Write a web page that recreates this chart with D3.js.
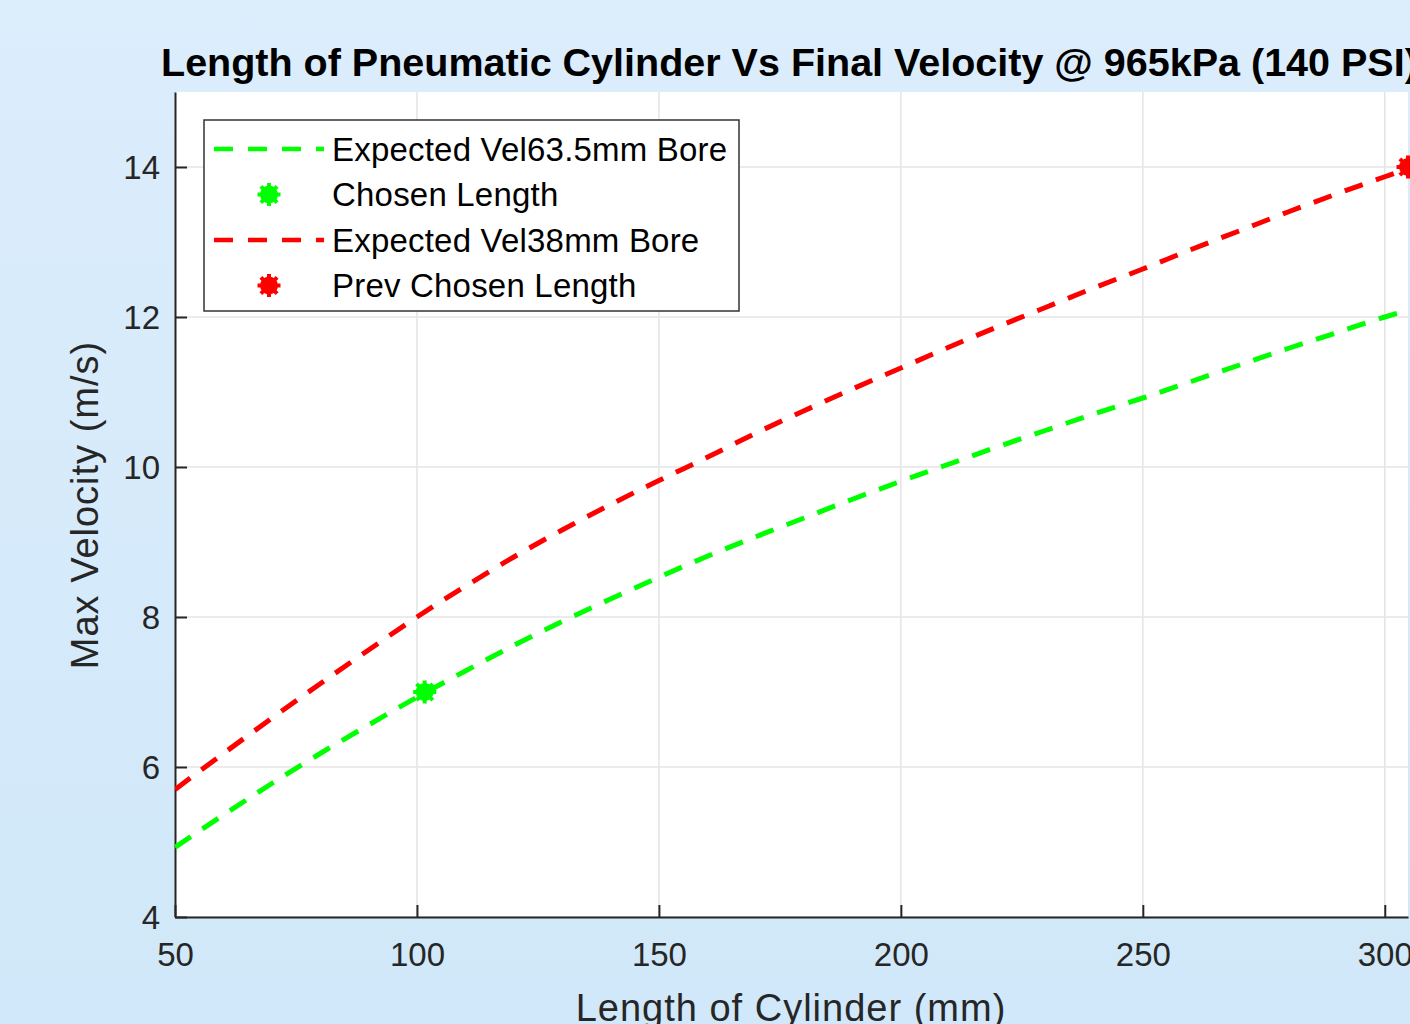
<!DOCTYPE html>
<html>
<head>
<meta charset="utf-8">
<script src="https://cdnjs.cloudflare.com/ajax/libs/d3/7.8.5/d3.min.js"></script>
<style>
  html, body { margin: 0; padding: 0; overflow: hidden; }
  body { width: 1410px; height: 1024px; }
  text { font-family: "Liberation Sans", Arial, sans-serif; }
</style>
</head>
<body>
<div id="chart"></div>
<script>
var WIDTH = 1410
var HEIGHT = 1024

// cylinder length (mm)
var lengths = [50, 60, 70, 80, 90, 100, 110, 120, 130, 140, 150, 160, 170, 180, 190, 200,
  210, 220, 230, 240, 250, 260, 270, 280, 290, 300, 304.8]
// expected velocity, 63.5mm bore (m/s)
var vel635 = [4.93, 5.36, 5.78, 6.18, 6.56, 6.93, 7.28, 7.62, 7.94, 8.24, 8.53, 8.81, 9.07, 9.32,
  9.57, 9.81, 10.04, 10.27, 10.49, 10.71, 10.92, 11.14, 11.36, 11.58, 11.79, 12.0, 12.09]
// expected velocity, 38mm bore (m/s)
var vel38 = [5.70, 6.18, 6.65, 7.11, 7.56, 8.0, 8.41, 8.80, 9.16, 9.50, 9.82, 10.13, 10.45, 10.75,
  11.04, 11.32, 11.60, 11.87, 12.13, 12.39, 12.64, 12.90, 13.15, 13.40, 13.64, 13.87, 13.98]
var chosen = [101.6, 7.0]
var prevChosen = [304.8, 14.0]

var xTicks = [50, 100, 150, 200, 250, 300]
var yTicks = [4, 6, 8, 10, 12, 14]
var legendLabels = ["Expected Vel63.5mm Bore", "Chosen Length", "Expected Vel38mm Bore", "Prev Chosen Length"]

var margin = {left: 175, top: 92, right: 2, bottom: 107}
var w = WIDTH - margin.left - margin.right
var h = HEIGHT - margin.top - margin.bottom

var svg = d3.select("#chart").append("svg")
  .attr("width", WIDTH)
  .attr("height", HEIGHT)

var defs = svg.append("defs")
var grad = defs.append("linearGradient").attr("id", "bg")
  .attr("x1", 0).attr("y1", 0).attr("x2", 0).attr("y2", 1)
grad.append("stop").attr("offset", "0%").attr("stop-color", "#dcedfc")
grad.append("stop").attr("offset", "100%").attr("stop-color", "#d0e8f9")
defs.append("clipPath").attr("id", "plotclip").append("rect")
  .attr("width", w).attr("height", h)

svg.append("rect").attr("width", WIDTH).attr("height", HEIGHT).attr("fill", "url(#bg)")

var x = d3.scaleLinear().domain([50, 304.8]).range([0, w])
var y = d3.scaleLinear().domain([4, 15]).range([h, 0])

var g = svg.append("g").attr("transform", "translate(" + margin.left + "," + margin.top + ")")

g.append("rect").attr("width", w).attr("height", h).attr("fill", "#fff")

// grid
g.selectAll(".vgrid").data(xTicks).enter().append("line")
  .attr("x1", d => x(d)).attr("x2", d => x(d))
  .attr("y1", 0).attr("y2", h)
  .attr("stroke", "#e4e4e4").attr("stroke-width", 1.5)
g.selectAll(".hgrid").data(yTicks).enter().append("line")
  .attr("y1", d => y(d)).attr("y2", d => y(d))
  .attr("x1", 0).attr("x2", w)
  .attr("stroke", "#e4e4e4").attr("stroke-width", 1.5)

// axes
var xAxis = g.append("g").attr("transform", "translate(0," + h + ")")
  .call(d3.axisBottom(x).tickValues(xTicks).tickSizeInner(-12).tickSizeOuter(0).tickPadding(27))
var yAxis = g.append("g")
  .call(d3.axisLeft(y).tickValues(yTicks).tickSizeInner(-12).tickSizeOuter(0).tickPadding(15))
;[xAxis, yAxis].forEach(function(a){
  a.select(".domain").attr("stroke", "#262626").attr("stroke-width", 2)
  a.selectAll(".tick line").attr("stroke", "#262626").attr("stroke-width", 2)
  a.selectAll(".tick text").attr("fill", "#262626")
    .style("font-family", "'Liberation Sans', Arial, sans-serif").style("font-size", "33px")
})
xAxis.selectAll(".tick text").attr("dy", "0.68em")
yAxis.selectAll(".tick text").attr("dy", "0.36em")

var line = d3.line().curve(d3.curveMonotoneX).x(d => x(d[0])).y(d => y(d[1]))
var plot = g.append("g").attr("clip-path", "url(#plotclip)")

function series(vals, color) {
  plot.append("path")
    .datum(lengths.map((l, i) => [l, vals[i]]))
    .attr("d", line)
    .attr("fill", "none")
    .attr("stroke", color)
    .attr("stroke-width", 5)
    .attr("stroke-dasharray", "19,14")
}
series(vel635, "#00ff00")
series(vel38, "#ff0000")

function star(sel, cx, cy, color) {
  var s = sel.append("g").attr("transform", "translate(" + cx + "," + cy + ")")
  s.append("circle").attr("r", 9).attr("fill", color)
  d3.range(8).forEach(function(k){
    var a = k * Math.PI / 4
    s.append("line").attr("x1", 0).attr("y1", 0)
      .attr("x2", 11.5 * Math.cos(a)).attr("y2", 11.5 * Math.sin(a))
      .attr("stroke", color).attr("stroke-width", 4)
  })
}
star(g, x(chosen[0]), y(chosen[1]), "#00ff00")
star(g, x(prevChosen[0]), y(prevChosen[1]), "#ff0000")

// title
svg.append("text")
  .attr("x", 161).attr("y", 76)
  .attr("font-size", "39.5px").attr("font-weight", "bold").attr("fill", "#000")
  .text("Length of Pneumatic Cylinder Vs Final Velocity @ 965kPa (140 PSI)")

// axis labels
svg.append("text")
  .attr("transform", "translate(98,505) rotate(-90)")
  .attr("text-anchor", "middle").attr("font-size", "38px").attr("letter-spacing", "1px")
  .attr("fill", "#262626")
  .text("Max Velocity (m/s)")
svg.append("text")
  .attr("x", 791).attr("y", 1021)
  .attr("text-anchor", "middle").attr("font-size", "38px").attr("letter-spacing", "1px")
  .attr("fill", "#262626")
  .text("Length of Cylinder (mm)")

// legend
var lg = svg.append("g").attr("transform", "translate(204,120)")
lg.append("rect").attr("width", 535).attr("height", 191)
  .attr("fill", "#fff").attr("stroke", "#333").attr("stroke-width", 1.5)
var rows = [
  {type: "line", color: "#00ff00"},
  {type: "mark", color: "#00ff00"},
  {type: "line", color: "#ff0000"},
  {type: "mark", color: "#ff0000"}
]
rows.forEach(function(r, i){
  var cy = 29 + i * 45.5
  if (r.type === "line") {
    lg.append("line").attr("x1", 10).attr("x2", 120).attr("y1", cy).attr("y2", cy)
      .attr("stroke", r.color).attr("stroke-width", 4.5).attr("stroke-dasharray", "19,15")
  } else {
    star(lg, 65, cy, r.color)
  }
  lg.append("text").attr("x", 128).attr("y", cy).attr("dy", "0.36em")
    .attr("font-size", "33px").attr("fill", "#000").attr("letter-spacing", "0.2px")
    .text(legendLabels[i])
})
</script>
</body>
</html>
